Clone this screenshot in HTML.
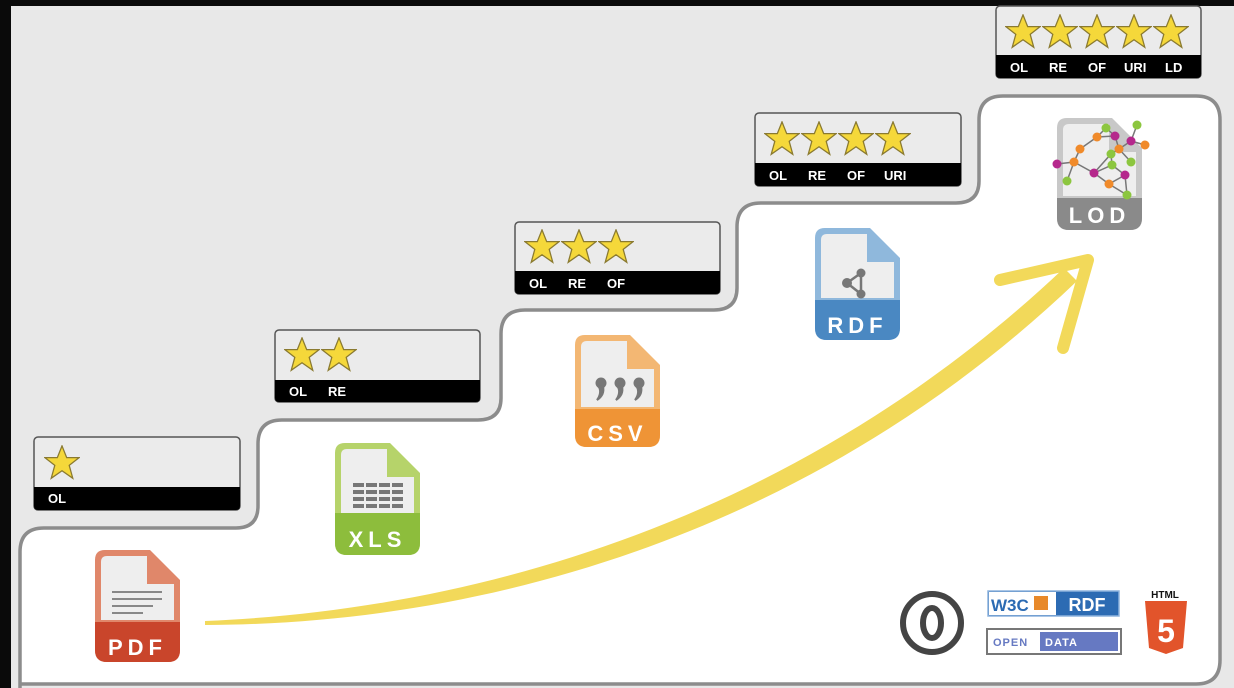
<!DOCTYPE html>
<html><head><meta charset="utf-8"><style>
html,body{margin:0;padding:0;background:#000;}
svg{display:block;}
text{font-family:"Liberation Sans",sans-serif;font-weight:bold;}
</style></head><body>
<svg width="1234" height="688" viewBox="0 0 1234 688" xmlns="http://www.w3.org/2000/svg">
<defs>
<symbol id="star" viewBox="-10 -10 20 20">
<polygon points="0,-9.5 2.6,-3 9.5,-3 4,1.3 6,8.5 0,4.3 -6,8.5 -4,1.3 -9.5,-3 -2.6,-3" fill="#f5d83a" stroke="#8a7a30" stroke-width="0.7"/>
</symbol>
<g id="comma"><circle cx="0" cy="0" r="5.5" fill="#777"/><path d="M2,3 Q4,12 -4,17 Q1,10 -2,4Z" fill="#777" stroke="#777" stroke-width="2"/></g>
</defs>
<rect x="0" y="0" width="1234" height="688" fill="#0a0a0a"/>
<rect x="11" y="6" width="1223" height="682" fill="#e8e8e8"/>
<!-- staircase -->
<path d="M20,688 L20,552 Q20,528 44,528 L236,528 Q258,528 258,506 L258,444 Q258,420 282,420 L478,420 Q501,420 501,398 L501,334 Q501,310 525,310 L714,310 Q737,310 737,288 L737,227 Q737,203 761,203 L956,203 Q979,203 979,181 L979,120 Q979,96 1003,96 L1196,96 Q1220,96 1220,120 L1220,660 Q1220,684 1196,684 L20,684" fill="#fff" stroke="#8c8c8c" stroke-width="3.5"/>
<!-- star boxes -->
<g stroke="#555" stroke-width="1.5">
<rect x="34" y="437" width="206" height="73" rx="4" fill="#ebebeb"/>
<rect x="275" y="330" width="205" height="72" rx="4" fill="#ebebeb"/>
<rect x="515" y="222" width="205" height="72" rx="4" fill="#ebebeb"/>
<rect x="755" y="113" width="206" height="73" rx="4" fill="#ebebeb"/>
<rect x="996" y="6" width="205" height="72" rx="4" fill="#ebebeb"/>
</g>
<g fill="#000">
<path d="M34,487 H240 V506 Q240,510 236,510 H38 Q34,510 34,506Z"/>
<path d="M275,380 H480 V398 Q480,402 476,402 H279 Q275,402 275,398Z"/>
<path d="M515,271 H720 V290 Q720,294 716,294 H519 Q515,294 515,290Z"/>
<path d="M755,163 H961 V182 Q961,186 957,186 H759 Q755,186 755,182Z"/>
<path d="M996,55 H1201 V74 Q1201,78 1197,78 H1000 Q996,78 996,74Z"/>
</g>
<g fill="#fff" font-size="13">
<text x="48" y="503">OL</text>
<text x="289" y="396">OL</text><text x="328" y="396">RE</text>
<text x="529" y="288">OL</text><text x="568" y="288">RE</text><text x="607" y="288">OF</text>
<text x="769" y="180">OL</text><text x="808" y="180">RE</text><text x="847" y="180">OF</text><text x="884" y="180">URI</text>
<text x="1010" y="72">OL</text><text x="1049" y="72">RE</text><text x="1088" y="72">OF</text><text x="1124" y="72">URI</text><text x="1165" y="72">LD</text>
</g>
<use href="#star" x="44" y="445" width="36" height="36"/>
<use href="#star" x="284" y="337" width="36" height="36"/><use href="#star" x="321" y="337" width="36" height="36"/>
<use href="#star" x="524" y="229" width="36" height="36"/><use href="#star" x="561" y="229" width="36" height="36"/><use href="#star" x="598" y="229" width="36" height="36"/>
<use href="#star" x="764" y="121" width="36" height="36"/><use href="#star" x="801" y="121" width="36" height="36"/><use href="#star" x="838" y="121" width="36" height="36"/><use href="#star" x="875" y="121" width="36" height="36"/>
<use href="#star" x="1005" y="14" width="36" height="36"/><use href="#star" x="1042" y="14" width="36" height="36"/><use href="#star" x="1079" y="14" width="36" height="36"/><use href="#star" x="1116" y="14" width="36" height="36"/><use href="#star" x="1153" y="14" width="36" height="36"/>

<!-- icons -->
<g transform="translate(95,550)">
<path d="M10,0 H55 L85,30 V100 Q85,112 73,112 H12 Q0,112 0,100 V10 Q0,0 10,0Z" fill="#e0876a"/>
<path d="M12,6 H52 V34 H79 V70 H6 V12 Q6,6 12,6Z" fill="#eeeeee"/>
<path d="M0,72 H85 V100 Q85,112 73,112 H12 Q0,112 0,100Z" fill="#c9452b"/>
<g stroke="#888" stroke-width="2"><line x1="17" y1="42" x2="67" y2="42"/><line x1="17" y1="49" x2="67" y2="49"/><line x1="17" y1="56" x2="58" y2="56"/><line x1="17" y1="63" x2="48" y2="63"/></g>
<text x="42.5" y="105" text-anchor="middle" fill="#fff" font-size="22" letter-spacing="5">PDF</text>
</g>
<g transform="translate(335,443)">
<path d="M10,0 H55 L85,30 V100 Q85,112 73,112 H12 Q0,112 0,100 V10 Q0,0 10,0Z" fill="#b6d36a"/>
<path d="M12,6 H52 V34 H79 V70 H6 V12 Q6,6 12,6Z" fill="#eeeeee"/>
<path d="M0,70 H85 V100 Q85,112 73,112 H12 Q0,112 0,100Z" fill="#8dbd3c"/>
<g fill="#777"><rect x="18" y="40" width="50" height="4"/><rect x="18" y="47" width="50" height="4"/><rect x="18" y="54" width="50" height="4"/><rect x="18" y="61" width="50" height="4"/></g>
<g stroke="#eee" stroke-width="2"><line x1="30" y1="38" x2="30" y2="66"/><line x1="43" y1="38" x2="43" y2="66"/><line x1="56" y1="38" x2="56" y2="66"/></g>
<text x="42.5" y="104" text-anchor="middle" fill="#fff" font-size="22" letter-spacing="5">XLS</text>
</g>
<g transform="translate(575,335)">
<path d="M10,0 H55 L85,30 V100 Q85,112 73,112 H12 Q0,112 0,100 V10 Q0,0 10,0Z" fill="#f3b773"/>
<path d="M12,6 H52 V34 H79 V72 H6 V12 Q6,6 12,6Z" fill="#eeeeee"/>
<path d="M0,74 H85 V100 Q85,112 73,112 H12 Q0,112 0,100Z" fill="#ef9436"/>
<use href="#comma" x="26" y="48"/><use href="#comma" x="45" y="48"/><use href="#comma" x="64" y="48"/>
<text x="42.5" y="106" text-anchor="middle" fill="#fff" font-size="22" letter-spacing="5">CSV</text>
</g>
<g transform="translate(815,228)">
<path d="M10,0 H55 L85,30 V100 Q85,112 73,112 H12 Q0,112 0,100 V10 Q0,0 10,0Z" fill="#8fb8dc"/>
<path d="M12,6 H52 V34 H79 V70 H6 V12 Q6,6 12,6Z" fill="#eeeeee"/>
<path d="M0,72 H85 V100 Q85,112 73,112 H12 Q0,112 0,100Z" fill="#4a88c2"/>
<g stroke="#777" stroke-width="2.5"><line x1="32" y1="55" x2="46" y2="45"/><line x1="32" y1="55" x2="46" y2="66"/><line x1="46" y1="45" x2="46" y2="66"/></g>
<g fill="#777"><circle cx="32" cy="55" r="5"/><circle cx="46" cy="45" r="4.5"/><circle cx="46" cy="66" r="4.5"/></g>
<text x="42.5" y="105" text-anchor="middle" fill="#fff" font-size="22" letter-spacing="5">RDF</text>
</g>
<g transform="translate(1057,118)">
<path d="M10,0 H55 L85,30 V100 Q85,112 73,112 H12 Q0,112 0,100 V10 Q0,0 10,0Z" fill="#c8c8c8"/>
<path d="M12,6 H52 V34 H79 V78 H6 V12 Q6,6 12,6Z" fill="#eeeeee"/>
<path d="M0,80 H85 V100 Q85,112 73,112 H12 Q0,112 0,100Z" fill="#8a8a8a"/>
<g stroke="#777" stroke-width="1.5" fill="none">
<polyline points="49,10 40,19 58,18 49,10"/>
<polyline points="58,18 62,31 54,36 37,55 52,66 70,77"/>
<polyline points="80,7 74,23 88,27"/>
<polyline points="74,23 62,31 74,44"/>
<polyline points="0,46 17,44 23,31 40,19"/>
<polyline points="17,44 10,63"/>
<polyline points="17,44 37,55 55,47 68,57 52,66"/>
<polyline points="54,36 55,47"/>
<polyline points="68,57 70,77"/>
</g>
<g>
<circle cx="49" cy="10" r="4.5" fill="#8cc63f"/><circle cx="40" cy="19" r="4.5" fill="#f08a2a"/><circle cx="58" cy="18" r="4.5" fill="#b5288c"/>
<circle cx="80" cy="7" r="4.5" fill="#8cc63f"/><circle cx="74" cy="23" r="4.5" fill="#b5288c"/><circle cx="88" cy="27" r="4.5" fill="#f08a2a"/>
<circle cx="62" cy="31" r="4.5" fill="#f08a2a"/><circle cx="54" cy="36" r="4.5" fill="#8cc63f"/><circle cx="23" cy="31" r="4.5" fill="#f08a2a"/>
<circle cx="0" cy="46" r="4.5" fill="#b5288c"/><circle cx="17" cy="44" r="4.5" fill="#f08a2a"/><circle cx="74" cy="44" r="4.5" fill="#8cc63f"/>
<circle cx="37" cy="55" r="4.5" fill="#b5288c"/><circle cx="55" cy="47" r="4.5" fill="#8cc63f"/><circle cx="10" cy="63" r="4.5" fill="#8cc63f"/>
<circle cx="52" cy="66" r="4.5" fill="#f08a2a"/><circle cx="68" cy="57" r="4.5" fill="#b5288c"/><circle cx="70" cy="77" r="4.5" fill="#8cc63f"/>
</g>
<text x="42.5" y="105" text-anchor="middle" fill="#fff" font-size="22" letter-spacing="5">LOD</text>
</g>

<!-- arrow -->
<path d="M205,621 C520,608 826,494 1064,268 L1077,281 C838,510 524,624 205,625 Z" fill="#f2d95a"/>
<path d="M1000,280 L1088,260 L1063,348" fill="none" stroke="#f2d95a" stroke-width="12" stroke-linecap="round" stroke-linejoin="round"/>

<!-- logos -->
<circle cx="932" cy="623" r="29" fill="none" stroke="#444" stroke-width="6"/>
<ellipse cx="932" cy="623" rx="9" ry="15" fill="none" stroke="#444" stroke-width="6"/>
<rect x="988" y="591" width="131" height="25" fill="#2c6bb3" stroke="#8db3dd" stroke-width="1.5"/>
<rect x="989" y="592" width="67" height="23" fill="#fff"/>
<text x="991" y="611" font-size="17" fill="#2c6bb3" font-weight="normal">W3C</text>
<rect x="1034" y="596" width="14" height="14" fill="#e8892a"/>
<text x="1087" y="611" font-size="18" fill="#fff" text-anchor="middle">RDF</text>
<rect x="987" y="629" width="134" height="25" fill="#fff" stroke="#777" stroke-width="2"/>
<rect x="1040" y="632" width="78" height="19" fill="#6679c2"/>
<text x="993" y="646" font-size="11" fill="#6679c2" font-family="Liberation Mono" letter-spacing="1">OPEN</text>
<text x="1045" y="646" font-size="11" fill="#fff" font-family="Liberation Mono" letter-spacing="1">DATA</text>
<text x="1165" y="598" font-size="10" text-anchor="middle" fill="#111">HTML</text>
<path d="M1145,601 H1187 L1183,648 L1166,654 L1149,648Z" fill="#e2542b"/>
<text x="1166" y="642" font-size="32" text-anchor="middle" fill="#fff">5</text>
</svg>
</body></html>
